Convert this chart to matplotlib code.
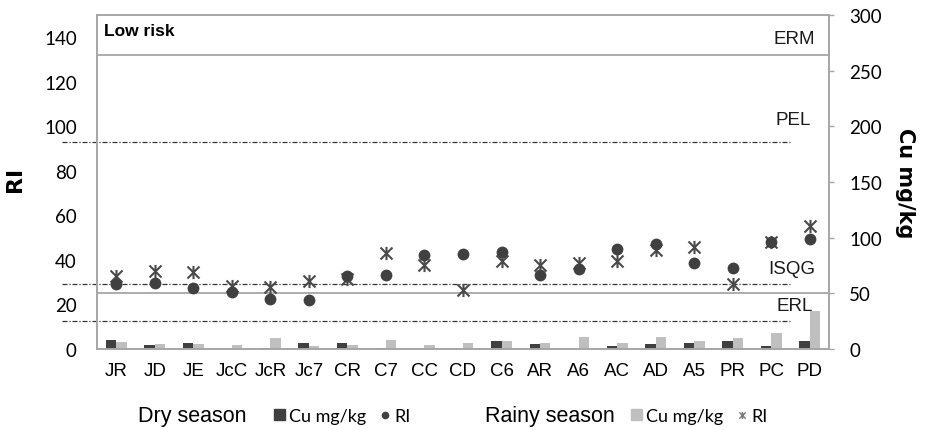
import numpy as np
import matplotlib
matplotlib.use("Agg")
import matplotlib.pyplot as plt
from matplotlib.path import Path
from matplotlib.lines import Line2D
from matplotlib.patches import Patch

# datos
sites = ["JR", "JD", "JE", "JcC", "JcR", "Jc7", "CR", "C7", "CC", "CD",
         "C6", "AR", "A6", "AC", "AD", "A5", "PR", "PC", "PD"]
cu_dry = [8.4, 3.3, 5.7, 0.0, 1.2, 5.7, 5.7, 1.2, 0.0, 0.0,
          7.0, 4.5, 0.0, 2.4, 4.5, 5.7, 7.2, 2.4, 7.4]
cu_rainy = [6.0, 4.5, 4.5, 3.3, 9.6, 2.4, 3.3, 8.4, 3.3, 5.7,
            6.8, 5.7, 10.8, 5.7, 10.8, 6.9, 9.6, 14.4, 33.8]
ri_dry = [29.4, 29.8, 27.4, 25.4, 22.4, 21.8, 33.0, 33.4, 42.1, 42.6,
          43.4, 33.4, 35.8, 44.7, 47.3, 38.4, 36.4, 48.2, 49.2]
ri_rainy = [32.7, 34.9, 34.5, 28.1, 27.7, 30.7, 31.3, 42.9, 37.9, 26.5,
            39.4, 37.9, 38.5, 39.7, 44.4, 45.9, 29.4, 48.2, 55.1]

# umbrales de Cu (eje derecho)
guide_names = ["ERM", "PEL", "ISQG", "ERL"]
guide_values = [264, 186, 58.5, 25]
low_risk_limit = 50

narrow = ["Liberation Sans Narrow", "Liberation Sans", "DejaVu Sans"]
calib = ["Lato", "DejaVu Sans"]
dark = "#404040"
light = "#bfbfbf"
frame = "#a6a6a6"

# marcador tipo asterisco de Excel
star = Path([(-1, -1), (1, 1), (-1, 1), (1, -1), (0, -1.1), (0, 1.1)],
            [Path.MOVETO, Path.LINETO, Path.MOVETO, Path.LINETO, Path.MOVETO, Path.LINETO])

fig = plt.figure(figsize=(9.35, 4.31), dpi=100)
ax = fig.add_axes([97 / 935, 1 - 350 / 431, 732 / 935, 334 / 431])
ax2 = ax.twinx()
ax.set_zorder(ax2.get_zorder() + 1)
ax.patch.set_visible(False)

x = np.arange(len(sites))
w = 0.27
ax2.bar(x - w / 2, cu_dry, w, color=dark, zorder=2)
ax2.bar(x + w / 2, cu_rainy, w, color=light, zorder=2)

ax.plot(x, ri_rainy, linestyle="none", marker=star, markersize=9.5,
        markeredgewidth=1.5, color="#4a4a4a", zorder=3)
ax.plot(x, ri_dry, linestyle="none", marker="o", markersize=8.5,
        color=dark, markeredgewidth=0, zorder=4)

# lineas de referencia
tr = ax2.get_yaxis_transform()
ax2.axhline(guide_values[0], color=frame, lw=1.3, zorder=1)
ax2.axhline(low_risk_limit, color=frame, lw=1.3, zorder=1)
for v in guide_values[1:]:
    ax2.plot([-0.048, 0.947], [v, v], transform=tr, color="#333333", lw=0.9,
             linestyle=(0, (4, 1.5, 1, 1.5)), clip_on=False, zorder=1)

label_y = [279, 206, 72, 38.7]
label_x = [0.981, 0.975, 0.981, 0.978]
for name, lx, ly in zip(guide_names, label_x, label_y):
    ax2.text(lx, ly, name, transform=tr, ha="right", va="center",
             fontsize=13.5, family=narrow, color="#1a1a1a")
ax2.text(0.01, 0.955, "Low risk", transform=ax2.transAxes, ha="left", va="center",
         fontsize=12.5, fontweight="bold", family=narrow)

ax.set_xlim(-0.5, len(sites) - 0.5)
ax.set_ylim(0, 150)
ax2.set_ylim(0, 300)
ax.set_yticks(range(0, 141, 20))
ax2.set_yticks(range(0, 301, 50))
ax.set_xticks(x)
ax.set_xticklabels(sites, fontsize=13.5, family=narrow)
ax.tick_params(axis="x", length=0, pad=9)
ax.tick_params(axis="y", length=0, pad=14.5, labelsize=13.5)
ax2.tick_params(axis="y", length=3.5, width=1, color=frame, pad=11, labelsize=13.5)
for lbl in ax.get_yticklabels() + ax2.get_yticklabels():
    lbl.set_family(calib)
for a in (ax, ax2):
    for s in a.spines.values():
        s.set_color(frame)
        s.set_linewidth(1.2)

ax.set_ylabel("RI", fontsize=16, fontweight="bold")
ax.yaxis.set_label_coords(-72 / 732, 0.51)
ax2.set_ylabel("Cu mg/kg", fontsize=15, fontweight="bold", rotation=270, va="center")
ax2.yaxis.set_label_coords(1 + 76 / 732, 0.5)

# leyenda
fig.text(138 / 935, 1 - 417 / 431, "Dry season", fontsize=15.5, family=narrow,
         ha="left", va="center")
fig.text(485 / 935, 1 - 417 / 431, "Rainy season", fontsize=15.5, family=narrow,
         ha="left", va="center")
h_dry = [Patch(color=dark), Line2D([], [], marker="o", color=dark, linestyle="none", markersize=4.5)]
h_rainy = [Patch(color=light), Line2D([], [], marker=star, color="#777777", linestyle="none",
                                      markersize=5, markeredgewidth=1)]
for handles, x0 in ((h_dry, 265), (h_rainy, 622)):
    leg = fig.legend(handles, ["Cu mg/kg", "RI"], loc="center left",
                     bbox_to_anchor=(x0 / 935, 1 - 417 / 431), ncol=2, frameon=False,
                     borderpad=0, handlelength=0.6, handleheight=0.6, handletextpad=0.25,
                     columnspacing=0.7, prop={"family": calib, "size": 13})

fig.savefig("out.png", dpi=100)
